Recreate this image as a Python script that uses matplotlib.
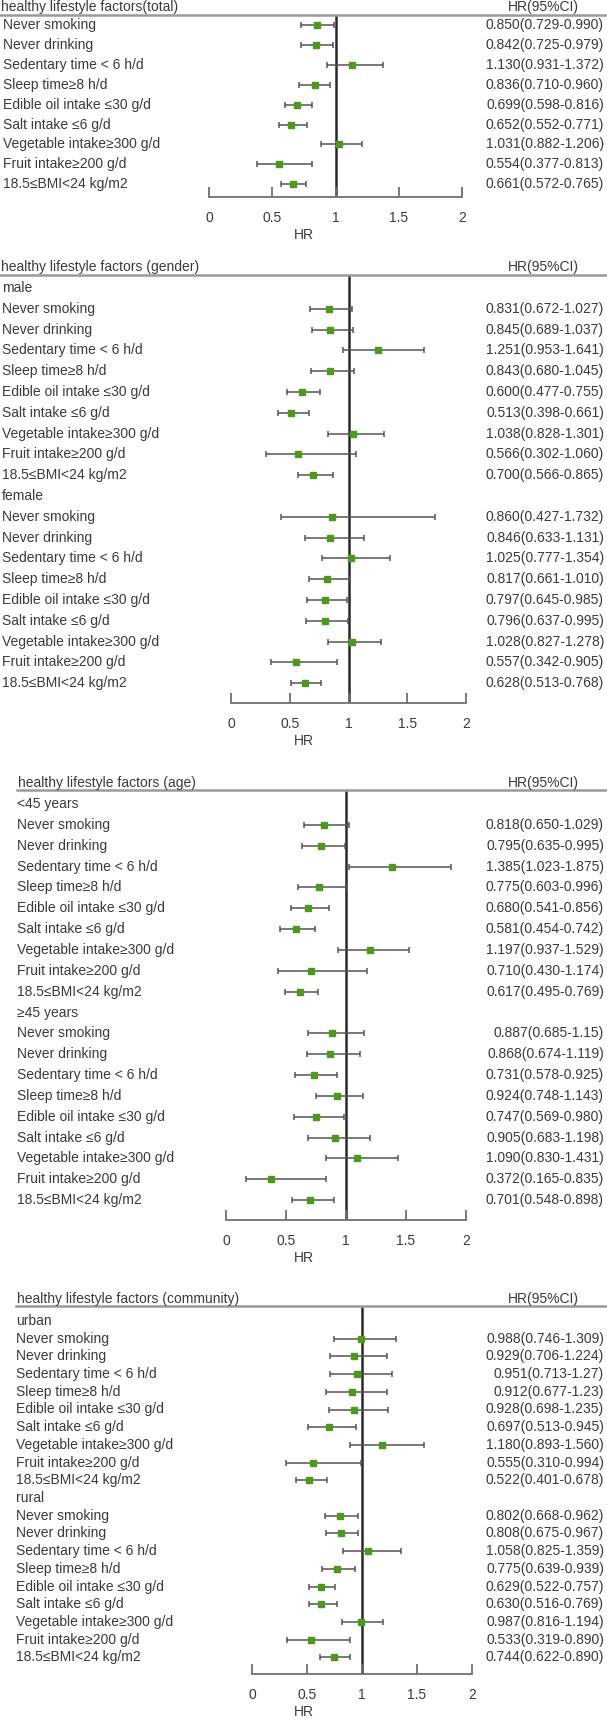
import re

import matplotlib
matplotlib.use('Agg')
import matplotlib.pyplot as plt
import matplotlib.transforms as mtransforms
from matplotlib.lines import Line2D

plt.rcParams['font.family'] = ['Liberation Sans Narrow', 'Liberation Sans', 'DejaVu Sans']

factors = ['Never smoking', 'Never drinking', 'Sedentary time < 6 h/d', 'Sleep time\u22658 h/d',
           'Edible oil intake \u226430 g/d', 'Salt intake \u22646 g/d', 'Vegetable intake\u2265300 g/d',
           'Fruit intake\u2265200 g/d', '18.5\u2264BMI<24 kg/m2']

total_ci = ['0.850(0.729-0.990)', '0.842(0.725-0.979)', '1.130(0.931-1.372)', '0.836(0.710-0.960)',
            '0.699(0.598-0.816)', '0.652(0.552-0.771)', '1.031(0.882-1.206)', '0.554(0.377-0.813)',
            '0.661(0.572-0.765)']
male_ci = ['0.831(0.672-1.027)', '0.845(0.689-1.037)', '1.251(0.953-1.641)', '0.843(0.680-1.045)',
           '0.600(0.477-0.755)', '0.513(0.398-0.661)', '1.038(0.828-1.301)', '0.566(0.302-1.060)',
           '0.700(0.566-0.865)']
female_ci = ['0.860(0.427-1.732)', '0.846(0.633-1.131)', '1.025(0.777-1.354)', '0.817(0.661-1.010)',
             '0.797(0.645-0.985)', '0.796(0.637-0.995)', '1.028(0.827-1.278)', '0.557(0.342-0.905)',
             '0.628(0.513-0.768)']
young_ci = ['0.818(0.650-1.029)', '0.795(0.635-0.995)', '1.385(1.023-1.875)', '0.775(0.603-0.996)',
            '0.680(0.541-0.856)', '0.581(0.454-0.742)', '1.197(0.937-1.529)', '0.710(0.430-1.174)',
            '0.617(0.495-0.769)']
old_ci = ['0.887(0.685-1.15)', '0.868(0.674-1.119)', '0.731(0.578-0.925)', '0.924(0.748-1.143)',
          '0.747(0.569-0.980)', '0.905(0.683-1.198)', '1.090(0.830-1.431)', '0.372(0.165-0.835)',
          '0.701(0.548-0.898)']
urban_ci = ['0.988(0.746-1.309)', '0.929(0.706-1.224)', '0.951(0.713-1.27)', '0.912(0.677-1.23)',
            '0.928(0.698-1.235)', '0.697(0.513-0.945)', '1.180(0.893-1.560)', '0.555(0.310-0.994)',
            '0.522(0.401-0.678)']
rural_ci = ['0.802(0.668-0.962)', '0.808(0.675-0.967)', '1.058(0.825-1.359)', '0.775(0.639-0.939)',
            '0.629(0.522-0.757)', '0.630(0.516-0.769)', '0.987(0.816-1.194)', '0.533(0.319-0.890)',
            '0.744(0.622-0.890)']

xticks = [0, 0.5, 1, 1.5, 2]
xtick_labels = ['0', '0.5', '1', '1.5', '2']

# panel title, groups, and layout in pixels of the 607x1720 figure
panels = [
    dict(title='healthy lifestyle factors(total)', groups=[(None, total_ci)],
         line=15, first=25, step=19.9, axis=197, x0=209, x2=462, indent=3, lstart=0),
    dict(title='healthy lifestyle factors (gender)', groups=[('male', male_ci), ('female', female_ci)],
         line=275, first=288, step=20.8, axis=703, x0=231, x2=466, indent=2, lstart=0),
    dict(title='healthy lifestyle factors (age)', groups=[('<45 years', young_ci), ('\u226545 years', old_ci)],
         line=790, first=804, step=20.85, axis=1220, x0=226, x2=466, indent=17, lstart=17),
    dict(title='healthy lifestyle factors (community)', groups=[('urban', urban_ci), ('rural', rural_ci)],
         line=1306, first=1321, step=17.7, axis=1674, x0=252, x2=472, indent=16, lstart=16),
]

W, H = 607, 1720
TXT = '#3a3a3a'
GREEN = '#4b9a1c'
FS = 10


def parse(s):
    hr, lo, hi = map(float, re.findall(r'[\d.]+', s))
    return hr, lo, hi


fig = plt.figure(figsize=(W / 100, H / 100), dpi=100)

for p in panels:
    ax = fig.add_axes([0, 1 - p['axis'] / H, 1, (p['axis'] - p['line']) / H])
    scale = (p['x2'] - p['x0']) / 2.0
    ax.set_xlim(-p['x0'] / scale, (W - p['x0']) / scale)
    top = (p['line'] - p['first']) / p['step']
    bottom = (p['axis'] - p['first']) / p['step']
    ax.set_ylim(bottom, top)
    trans = mtransforms.blended_transform_factory(ax.transAxes, ax.transData)

    # rows
    ys, hrs, los, his = [], [], [], []
    i = 0
    for gname, cis_g in p['groups']:
        if gname is not None:
            ax.text(p['indent'] / W, i, gname, transform=trans, va='center', ha='left',
                    fontsize=FS, color=TXT)
            i += 1
        for name, ci in zip(factors, cis_g):
            hr, lo, hi = parse(ci)
            ax.text(p['indent'] / W, i, name, transform=trans, va='center', ha='left',
                    fontsize=FS, color=TXT)
            ax.text(604 / W, i, ci, transform=trans, va='center', ha='right',
                    fontsize=FS, color=TXT)
            ys.append(i)
            hrs.append(hr)
            los.append(hr - lo)
            his.append(hi - hr)
            i += 1

    ax.axvline(1, color='#2a2a2a', lw=1.8, zorder=1)
    ax.errorbar(hrs, ys, xerr=[los, his], fmt='s', ms=4.5, mfc=GREEN, mec=GREEN,
                ecolor='#555555', elinewidth=1.1, capsize=2.5, capthick=1.1, zorder=3)

    # header: grey rule with title and column name sitting on it
    ax.add_line(Line2D([p['lstart'] / W, 1], [top, top], transform=trans, color='#9a9a9a',
                       lw=1.8, clip_on=False))
    base = top - 3.5 / p['step']
    ax.text(p['lstart'] / W + 0.002, base, p['title'], transform=trans, va='baseline',
            ha='left', fontsize=FS, color=TXT)
    ax.text(579 / W, base, 'HR(95%CI)', transform=trans, va='baseline', ha='right',
            fontsize=FS, color=TXT)

    # bottom axis
    for s in ['left', 'right', 'top']:
        ax.spines[s].set_visible(False)
    ax.spines['bottom'].set_bounds(0, 2)
    ax.spines['bottom'].set_color('#707070')
    ax.spines['bottom'].set_linewidth(1.3)
    ax.set_xticks(xticks)
    ax.set_xticklabels(xtick_labels)
    ax.tick_params(axis='x', direction='in', length=7, width=1.3, color='#707070',
                   labelsize=FS, labelcolor=TXT, pad=10)
    ax.set_yticks([])
    ax.set_xlabel('HR', fontsize=FS, color=TXT, labelpad=2)

fig.savefig('out.png', dpi=100)
